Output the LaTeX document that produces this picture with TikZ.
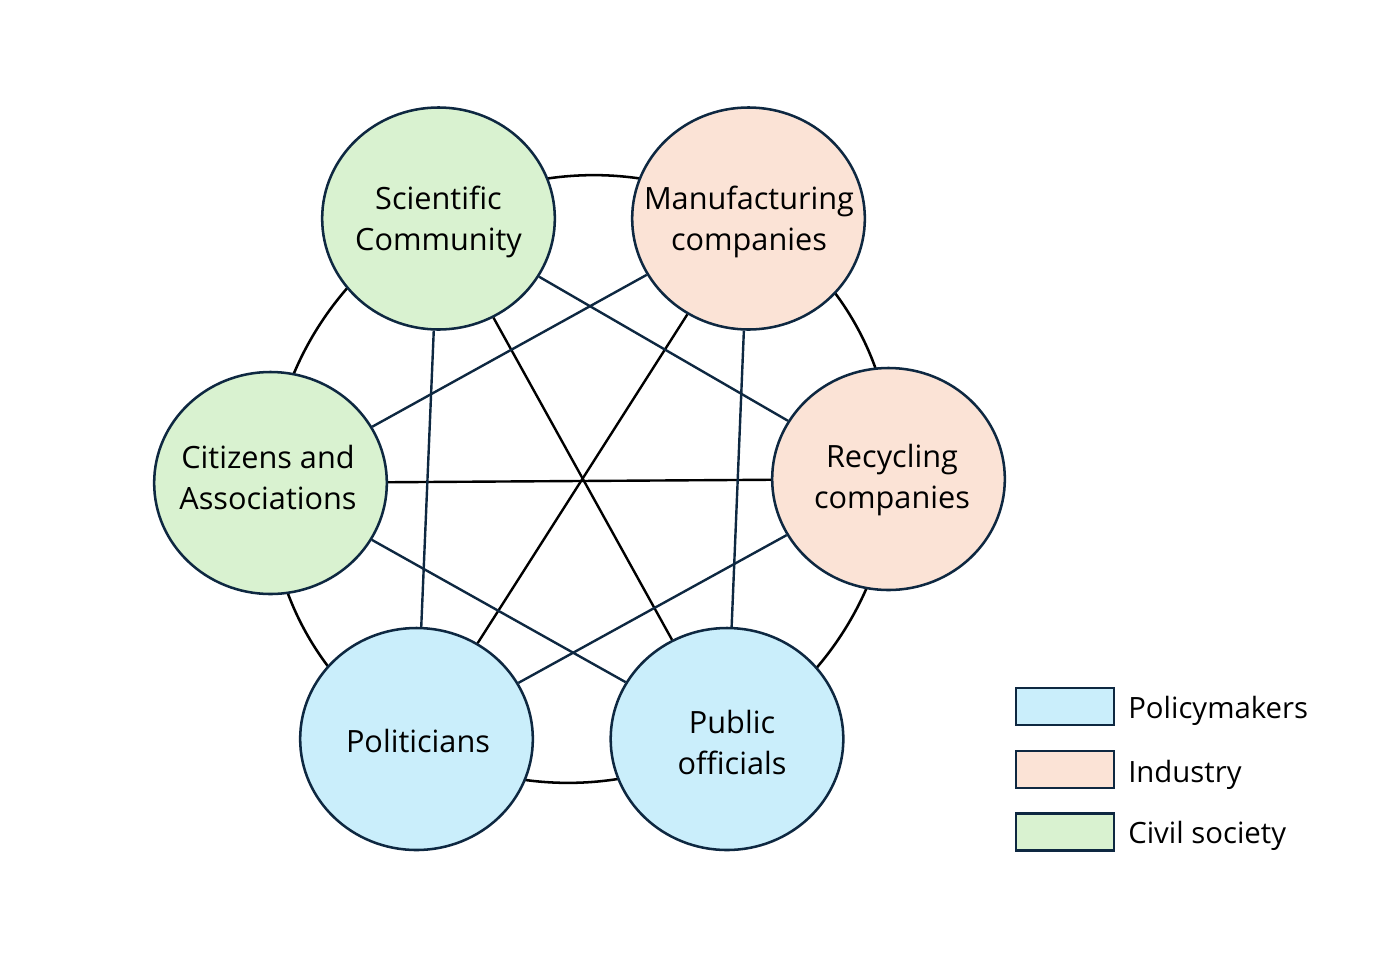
\documentclass[tikz,border=0pt]{standalone}
\usepackage{fontspec}
\setmainfont{Open Sans}
\usetikzlibrary{shapes.geometric}
\definecolor{civil}{HTML}{D9F2D0}
\definecolor{industry}{HTML}{FBE3D6}
\definecolor{policy}{HTML}{CAEEFB}
\definecolor{navy}{HTML}{0E2841}
\tikzset{
  actor/.style={ellipse, draw=navy, line width=1.9pt, inner sep=0pt,
    minimum width=174.5pt, minimum height=166.5pt},
  actortext/.style={align=center, inner sep=0pt,
    font={\fontsize{23}{30.75}\selectfont}},
  chord/.style={draw=navy, line width=1.8pt},
  diam/.style={draw=black, line width=1.8pt},
  ring/.style={draw=black, line width=1.9pt},
  legbox/.style={draw=navy, line width=1.9pt, minimum width=73.5pt, minimum height=27.5pt, inner sep=0pt},
  legtext/.style={anchor=base west, inner sep=0pt, font={\fontsize{22}{26}\selectfont}}
}
\begin{document}
\begin{tikzpicture}[x=0.75pt,y=-0.75pt]
\useasboundingbox (0,0) rectangle (1387,960);
\coordinate (ctr) at (581,479);
\draw[ring, rotate around={30:(ctr)}] (ctr) ellipse [x radius=315, y radius=300];
\node[actor, fill=civil] (sci) at (438.5,218.5) {};
\node[actor, fill=industry] (man) at (748.5,218.5) {};
\node[actor, fill=industry] (rec) at (888.5,479) {};
\node[actor, fill=civil] (cit) at (270.5,483) {};
\node[actor, fill=policy] (pol) at (416.5,739) {};
\node[actor, fill=policy] (pub) at (727,739) {};
\node[actortext] (scit) at (438.5,222) {Scientific\\Community};
\node[actortext] (mant) at (749,222) {Manufacturing\\companies};
\node[actortext] (rect) at (892,480) {Recycling\\companies};
\node[actortext] (citt) at (268,477) {Citizens and\\Associations};
\node[actortext] (polt) at (418,741) {Politicians};
\node[actortext] (pubt) at (732,742) {Public\\officials};
\draw[diam] (sci) -- (pub);
\draw[diam] (man) -- (pol);
\draw[diam] (cit) -- (rec);
\draw[chord] (sci) -- (pol);
\draw[chord] (sci) -- (rec);
\draw[chord] (man) -- (cit);
\draw[chord] (man) -- (pub);
\draw[chord] (cit) -- (pub);
\draw[chord] (rec) -- (pol);
\node[legbox, fill=policy] (lp) at (1065,706.5) {};
\node[legbox, fill=industry] (li) at (1065,769.5) {};
\node[legbox, fill=civil] (lc) at (1065,832) {};
\node[legtext] (tp) at (1128,718) {Policymakers};
\node[legtext] (ti) at (1128,782) {Industry};
\node[legtext] (tc) at (1128,843) {Civil society};
\end{tikzpicture}
\end{document}
